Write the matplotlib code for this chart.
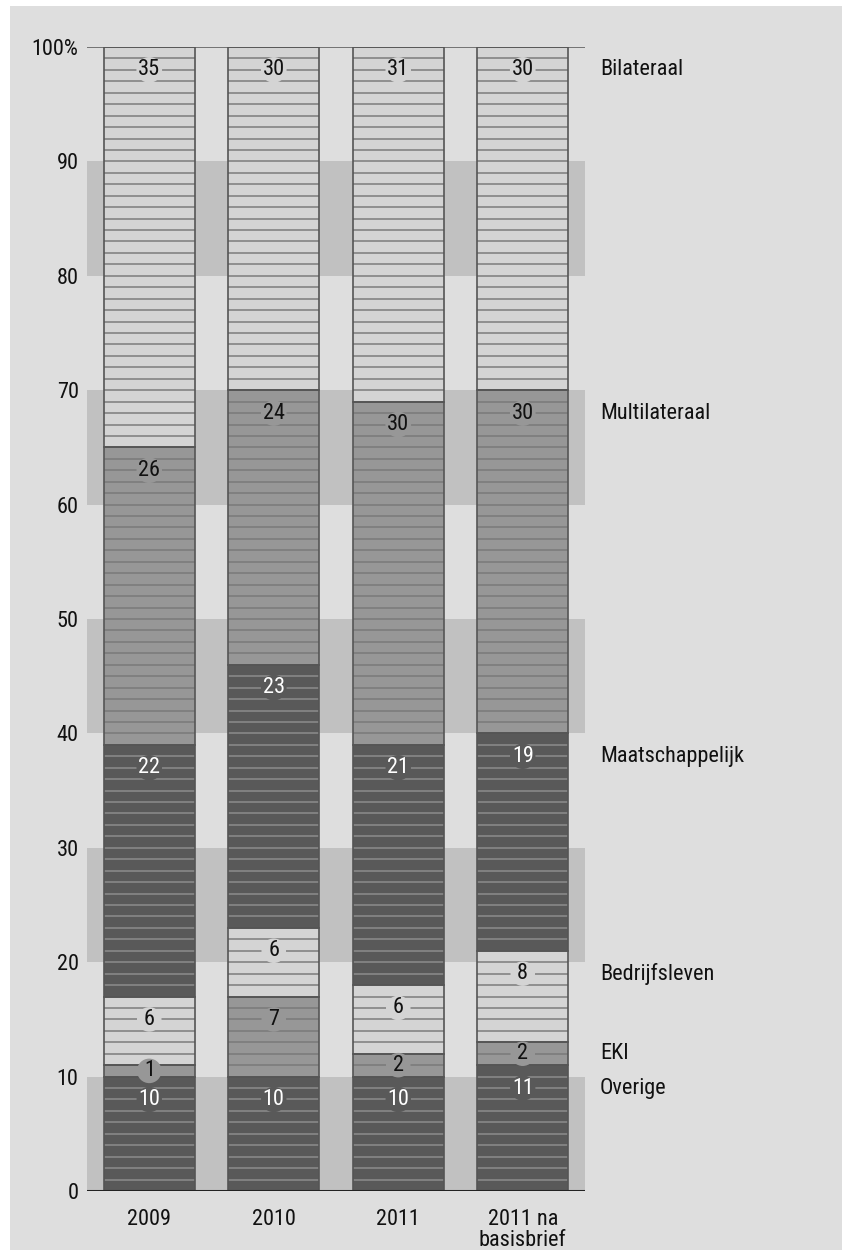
import matplotlib
matplotlib.use("Agg")
import matplotlib.pyplot as plt
import matplotlib.transforms as mtransforms
from matplotlib import font_manager
from matplotlib.patches import Rectangle
import numpy as np

# ---- data ----
categories = ["2009", "2010", "2011", "2011 na\nbasisbrief"]
series_names = ["Overige", "EKI", "Bedrijfsleven", "Maatschappelijk", "Multilateraal", "Bilateraal"]
overige = [10, 10, 10, 11]
eki = [1, 7, 2, 2]
bedrijfsleven = [6, 6, 6, 8]
maatschappelijk = [22, 23, 21, 19]
multilateraal = [26, 24, 30, 30]
bilateraal = [35, 30, 31, 30]
yticks = [0, 10, 20, 30, 40, 50, 60, 70, 80, 90, 100]
ytick_labels = ["0", "10", "20", "30", "40", "50", "60", "70", "80", "90", "100%"]

series = [overige, eki, bedrijfsleven, maatschappelijk, multilateraal, bilateraal]

# ---- styles ----
DARK, MID, LIGHT = "#595959", "#979797", "#d4d4d4"
seg_colors = [DARK, MID, LIGHT, DARK, MID, LIGHT]
line_colors = {DARK: "#8c8c8c", MID: "#797979", LIGHT: "#7c7c7c"}
text_colors = {DARK: "white", MID: "#111111", LIGHT: "#111111"}
BG = "#dedede"
BAND = "#c1c1c1"

names = {f.name for f in font_manager.fontManager.ttflist}
family = "Roboto Condensed" if "Roboto Condensed" in names else (
    "Liberation Sans Narrow" if "Liberation Sans Narrow" in names else "Liberation Sans")
plt.rcParams["font.family"] = [family, "DejaVu Sans"]
FS = 16

W, H = 842, 1257
fig = plt.figure(figsize=(W / 100, H / 100), dpi=100, facecolor="white")
fig.patches.append(Rectangle((10 / W, 7 / H), 1 - 10 / W, 1 - 13 / H,
                             transform=fig.transFigure, facecolor=BG,
                             edgecolor="none", zorder=-10))

left, right = 87 / W, 585 / W
bottom, top = (H - 1191) / H, (H - 47) / H
ax = fig.add_axes([left, bottom, right - left, top - bottom])
ax.set_facecolor("none")
ax.set_xlim(-0.5, 3.5)
ax.set_ylim(0, 100)
for s in ax.spines.values():
    s.set_visible(False)

# horizontal bands
for b in range(0, 100, 20):
    ax.axhspan(b, b + 10, color=BAND, lw=0, zorder=0)

x = np.arange(len(categories))
width = 0.73
bottoms = np.zeros(len(categories))
for vals, col in zip(series, seg_colors):
    vals = np.array(vals, dtype=float)
    ax.bar(x, vals, width, bottom=bottoms, color=col, edgecolor="none", zorder=2)
    for i in range(len(x)):
        b0, b1 = bottoms[i], bottoms[i] + vals[i]
        ys = list(range(int(b0) + 1, int(b1)))
        if ys:
            ax.hlines(ys, x[i] - width / 2, x[i] + width / 2,
                      colors=line_colors[col], lw=1.1, zorder=3)
    bottoms = bottoms + vals

# segment outlines and value labels
bottoms = np.zeros(len(categories))
label_y_last = []
for vals, col in zip(series, seg_colors):
    vals = np.array(vals, dtype=float)
    ax.bar(x, vals, width, bottom=bottoms, fill=False, edgecolor="#555555",
           lw=1.2, zorder=4)
    for i in range(len(x)):
        v = vals[i]
        ly = bottoms[i] + v - 2 if v >= 3 else bottoms[i] + v / 2
        ax.text(x[i], ly, f"{int(v)}", ha="center", va="center", fontsize=FS,
                color=text_colors[col], zorder=6,
                bbox=dict(boxstyle="circle,pad=0.08", fc=col, ec="none"))
        if i == len(x) - 1:
            label_y_last.append(ly)
    bottoms = bottoms + vals

# right-hand series labels aligned with last bar's labels
trans = mtransforms.blended_transform_factory(fig.transFigure, ax.transData)
for name, ly in zip(series_names, label_y_last):
    ax.text(600 / W, ly, name, transform=trans, ha="left", va="center",
            fontsize=FS, color="#111111")

# axis lines
ax.axhline(0, color="#222222", lw=2.2, zorder=7)
ax.axhline(100, color="#555555", lw=1.1, zorder=7)

ax.set_yticks(yticks)
ax.set_yticklabels(ytick_labels, fontsize=FS, color="#111111")
ax.set_xticks(x)
ax.set_xticklabels(categories, fontsize=FS, color="#111111", linespacing=1.0)
ax.tick_params(axis="both", length=0)
ax.tick_params(axis="y", pad=6)
ax.tick_params(axis="x", pad=13)

fig.savefig("out.png", dpi=100, facecolor="white")
